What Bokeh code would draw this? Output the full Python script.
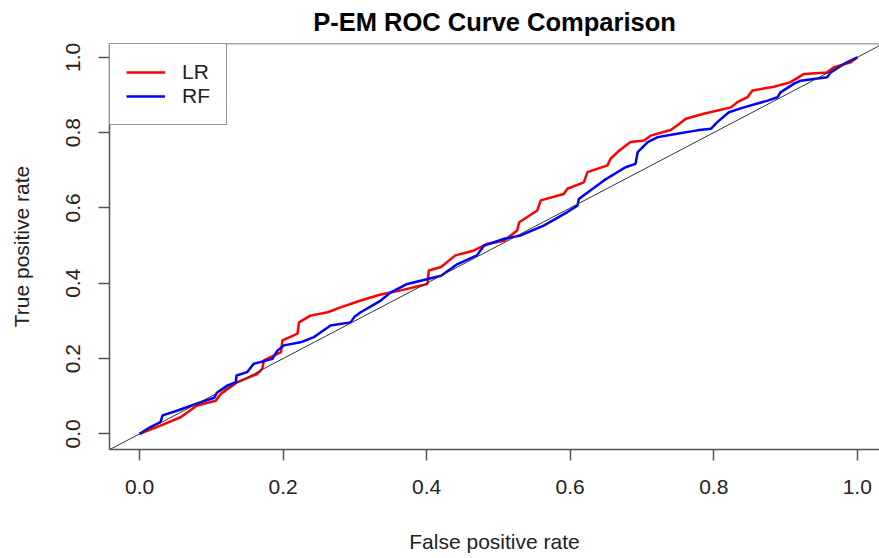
from bokeh.plotting import figure
from bokeh.models import Range1d, FixedTicker, PrintfTickFormatter, Slope, Span, Legend, LegendItem
from bokeh.embed import file_html
from bokeh.resources import INLINE

# ---------------- data ----------------
title_text = "P-EM ROC Curve Comparison"
x_label = "False positive rate"
y_label = "True positive rate"
tick_values = [0.0, 0.2, 0.4, 0.6, 0.8, 1.0]
series_names = ["LR", "RF"]
series_colors = ["#ff0000", "#0000ff"]

lr_fpr = [0.0, 0.029, 0.057, 0.080, 0.106, 0.113, 0.136, 0.164, 0.171, 0.173,
          0.197, 0.199, 0.220, 0.222, 0.238, 0.262, 0.280, 0.308, 0.336, 0.364,
          0.401, 0.403, 0.420, 0.440, 0.466, 0.485, 0.508, 0.526, 0.529, 0.554,
          0.559, 0.591, 0.596, 0.619, 0.624, 0.652, 0.656, 0.668, 0.684, 0.703,
          0.712, 0.740, 0.749, 0.761, 0.786, 0.824, 0.833, 0.847, 0.854, 0.884,
          0.907, 0.926, 0.958, 0.968, 0.991, 1.0]
lr_tpr = [0.0, 0.022, 0.044, 0.075, 0.088, 0.106, 0.137, 0.159, 0.173, 0.195,
          0.217, 0.248, 0.266, 0.296, 0.314, 0.323, 0.336, 0.354, 0.370, 0.381,
          0.398, 0.434, 0.443, 0.474, 0.487, 0.505, 0.513, 0.540, 0.562, 0.593,
          0.620, 0.637, 0.651, 0.668, 0.695, 0.713, 0.730, 0.752, 0.775, 0.779,
          0.792, 0.807, 0.819, 0.837, 0.850, 0.867, 0.881, 0.894, 0.912, 0.922,
          0.934, 0.956, 0.960, 0.974, 0.987, 1.0]

rf_fpr = [0.0, 0.015, 0.029, 0.032, 0.053, 0.085, 0.104, 0.108, 0.122, 0.134,
          0.135, 0.150, 0.159, 0.185, 0.192, 0.201, 0.224, 0.243, 0.266, 0.294,
          0.299, 0.308, 0.336, 0.350, 0.373, 0.420, 0.443, 0.470, 0.480, 0.508,
          0.531, 0.563, 0.596, 0.610, 0.612, 0.647, 0.677, 0.691, 0.694, 0.708,
          0.722, 0.749, 0.777, 0.796, 0.805, 0.821, 0.842, 0.875, 0.889, 0.893,
          0.912, 0.921, 0.958, 0.963, 0.982, 1.0]
rf_tpr = [0.0, 0.018, 0.031, 0.049, 0.062, 0.084, 0.096, 0.110, 0.128, 0.137,
          0.155, 0.164, 0.186, 0.199, 0.221, 0.235, 0.243, 0.257, 0.288, 0.296,
          0.310, 0.323, 0.354, 0.376, 0.398, 0.420, 0.451, 0.474, 0.500, 0.518,
          0.527, 0.553, 0.589, 0.606, 0.624, 0.673, 0.708, 0.717, 0.748, 0.775,
          0.788, 0.797, 0.806, 0.810, 0.828, 0.854, 0.867, 0.885, 0.894, 0.907,
          0.930, 0.938, 0.947, 0.960, 0.983, 1.0]

# ---------------- styling ----------------
FONT = "Liberation Sans"
AXIS_COLOR = "#555555"
TEXT_COLOR = "#222222"

x_start, x_end = -0.042, 1.031
y_start, y_end = -0.0416, 1.0367

p = figure(width=879, height=558, output_backend="svg", toolbar_location=None,
           x_range=Range1d(x_start, x_end), y_range=Range1d(y_start, y_end),
           min_border_left=109, min_border_right=0, min_border_top=43, min_border_bottom=109)
p.outline_line_color = None
p.background_fill_color = "white"
p.border_fill_color = "white"
p.xgrid.visible = False
p.ygrid.visible = False

p.title.text = title_text
p.title.text_font = FONT
p.title.text_font_style = "bold"
p.title.text_font_size = "25.5px"
p.title.text_color = "black"
p.title.align = "center"
p.title.vertical_align = "top"
p.title.standoff = 12
p.title.offset = 2

for ax in (p.xaxis[0], p.yaxis[0]):
    ax.ticker = FixedTicker(ticks=tick_values)
    ax.formatter = PrintfTickFormatter(format="%.1f")
    ax.axis_line_color = AXIS_COLOR
    ax.axis_line_width = 1.5
    ax.major_tick_line_color = AXIS_COLOR
    ax.major_tick_line_width = 1.5
    ax.major_tick_out = 11
    ax.major_tick_in = 0
    ax.minor_tick_out = 0
    ax.minor_tick_in = 0
    ax.major_label_text_font = FONT
    ax.major_label_text_font_size = "21px"
    ax.major_label_text_color = TEXT_COLOR
    ax.axis_label_text_font = FONT
    ax.axis_label_text_font_size = "21px"
    ax.axis_label_text_font_style = "normal"
    ax.axis_label_text_color = TEXT_COLOR

p.xaxis.axis_label = x_label
p.xaxis.major_label_standoff = 19
p.xaxis.axis_label_standoff = 33
p.yaxis.axis_label = y_label
p.yaxis.major_label_orientation = "vertical"
p.yaxis.major_label_standoff = 18
p.yaxis.axis_label_standoff = 31

# top border of the box (right side cropped in the reference)
p.add_layout(Span(location=y_end, dimension="width", line_color=AXIS_COLOR, line_width=1.5))

# diagonal reference line
p.add_layout(Slope(gradient=1, y_intercept=0, line_color="#333333", line_width=1))

r_lr = p.line(lr_fpr, lr_tpr, line_color=series_colors[0], line_width=2.5)
r_rf = p.line(rf_fpr, rf_tpr, line_color=series_colors[1], line_width=2.5)

legend = Legend(items=[LegendItem(label=series_names[0], renderers=[r_lr]),
                       LegendItem(label=series_names[1], renderers=[r_rf])],
                location="top_left", margin=0, padding=16, spacing=0,
                glyph_width=39, glyph_height=24, label_height=24, label_standoff=17,
                label_text_font=FONT, label_text_font_size="21px", label_text_color=TEXT_COLOR,
                border_line_color="#333333", border_line_width=1.5,
                background_fill_color="white", background_fill_alpha=1.0)
p.add_layout(legend, "center")

open("out.html", "w").write(file_html(p, INLINE))
